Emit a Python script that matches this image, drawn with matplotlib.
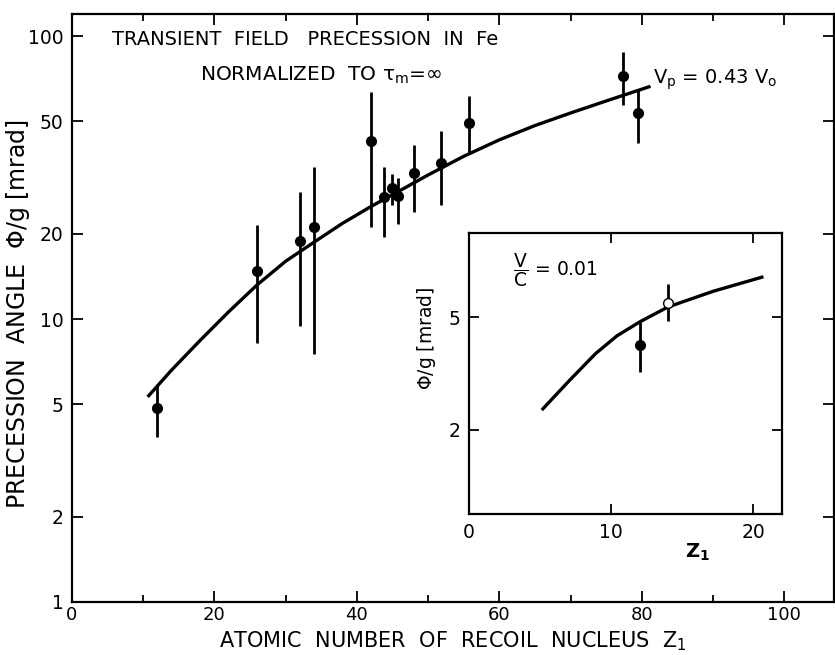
import numpy as np
import matplotlib
matplotlib.use('Agg')
import matplotlib.pyplot as plt
from matplotlib.ticker import FixedLocator, NullLocator, NullFormatter

# Données principales (Z1, Phi/g en mrad, barres d'erreur bas/haut)
z_main = [12, 26, 32, 34, 42, 43.8, 45, 45.8, 48, 51.8, 55.8, 77.4, 79.5]
phi_main = [4.86, 14.8, 18.8, 21.1, 42.6, 27.0, 29.1, 27.2, 32.7, 35.7, 49.5, 72.4, 53.7]
phi_low = [3.84, 8.24, 9.43, 7.55, 21.1, 19.5, 25.2, 21.6, 23.9, 25.2, 38.2, 57.0, 41.8]
phi_high = [5.87, 21.5, 28.1, 34.4, 63.5, 34.4, 32.5, 31.6, 41.2, 46.2, 61.2, 88.0, 65.3]

# Courbe théorique vp = 0.43 v0
z_curve = [10.8, 14, 18, 22, 26, 30, 34, 38, 42, 46, 50, 55, 60, 65, 70, 75, 81]
phi_curve = [5.36, 6.6, 8.4, 10.6, 13.2, 16.0, 18.7, 21.8, 25.0, 28.4, 32.3, 37.6, 43.0,
             48.3, 53.5, 59.0, 66.2]

# Encart v/c = 0.01
z_ins_filled = [12]
phi_ins_filled = [3.98]
phi_ins_filled_err = [[3.98 - 3.19], [4.80 - 3.98]]
z_ins_open = [14]
phi_ins_open = [5.65]
phi_ins_open_err = [[5.65 - 4.87], [6.58 - 5.65]]
z_ins_curve = [5.2, 7.1, 8.9, 10.4, 12.0, 14.0, 17.2, 20.6]
phi_ins_curve = [2.37, 3.0, 3.72, 4.3, 4.82, 5.45, 6.2, 6.95]

main_yticks = [1, 2, 5, 10, 20, 50, 100]

plt.rcParams['font.family'] = 'DejaVu Sans'
plt.rcParams['mathtext.default'] = 'regular'

fig = plt.figure(figsize=(8.35, 6.55), dpi=100)
ax = fig.add_axes([0.086, 0.081, 0.913, 0.898])

yerr = [np.array(phi_main) - np.array(phi_low), np.array(phi_high) - np.array(phi_main)]
ax.errorbar(z_main, phi_main, yerr=yerr, fmt='o', color='black', ms=7,
            elinewidth=2, capsize=0)
ax.plot(z_curve, phi_curve, color='black', lw=2.4)

ax.set_yscale('log')
ax.set_xlim(0, 107)
ax.set_ylim(1, 120)
ax.yaxis.set_major_locator(FixedLocator(main_yticks))
ax.yaxis.set_minor_locator(NullLocator())
ax.set_yticklabels([str(v) for v in main_yticks])
ax.set_xticks([0, 20, 40, 60, 80, 100])
ax.set_xticks([10, 30, 50, 70, 90], minor=True)
ax.tick_params(which='both', direction='in', top=True, right=True, labelsize=13.5,
               width=1.3, pad=6)
ax.tick_params(axis='x', which='both', labelsize=13, pad=3)
ax.tick_params(which='major', length=8)
ax.tick_params(which='minor', length=5)
for s in ax.spines.values():
    s.set_linewidth(1.6)

ax.set_xlabel(r'ATOMIC  NUMBER  OF  RECOIL  NUCLEUS  $Z_1$', fontsize=15)
ax.set_ylabel(r'PRECESSION  ANGLE  $\Phi$/g [mrad]', fontsize=17)
ax.xaxis.set_label_coords(0.5, -0.047)
ax.yaxis.set_label_coords(-0.052, 0.49)

ax.text(0.306, 0.956, 'TRANSIENT  FIELD   PRECESSION  IN  Fe', transform=ax.transAxes,
        ha='center', va='center', fontsize=14)
ax.text(0.327, 0.896, r'NORMALIZED  TO $\tau_m$=$\infty$', transform=ax.transAxes,
        ha='center', va='center', fontsize=14.5)
ax.text(0.762, 0.888, r'$V_p$ = 0.43 $V_o$', transform=ax.transAxes,
        ha='left', va='center', fontsize=14)

# Encart
ins = fig.add_axes([0.5617, 0.2148, 0.3745, 0.4299])
ins.errorbar(z_ins_filled, phi_ins_filled, yerr=phi_ins_filled_err, fmt='o',
             color='black', ms=7, elinewidth=2, capsize=0)
ins.errorbar(z_ins_open, phi_ins_open, yerr=phi_ins_open_err, fmt='o',
             color='black', mfc='white', ms=7, elinewidth=2, capsize=0, zorder=3)
ins.plot(z_ins_curve, phi_ins_curve, color='black', lw=2.4, zorder=2)
ins.set_yscale('log')
ins.set_xlim(0, 22)
ins.set_ylim(1, 10)
ins.yaxis.set_major_locator(FixedLocator([2, 5]))
ins.yaxis.set_minor_locator(NullLocator())
ins.yaxis.set_minor_formatter(NullFormatter())
ins.set_yticklabels(['2', '5'])
ins.set_xticks([0, 10, 20])
ins.tick_params(which='both', direction='in', top=True, right=True, labelsize=13.5,
                length=7, width=1.3, pad=6)
for s in ins.spines.values():
    s.set_linewidth(1.6)
ins.set_ylabel(r'$\Phi$/g [mrad]', fontsize=13.5)
ins.yaxis.set_label_coords(-0.10, 0.626)
ins.text(0.73, -0.134, '$Z_1$', transform=ins.transAxes, ha='center', va='center',
         fontsize=14, fontweight='bold')
ins.text(0.14, 0.868, r'$\dfrac{V}{C}$ = 0.01', transform=ins.transAxes,
         ha='left', va='center', fontsize=13.5)

fig.savefig('out.png', dpi=100)
